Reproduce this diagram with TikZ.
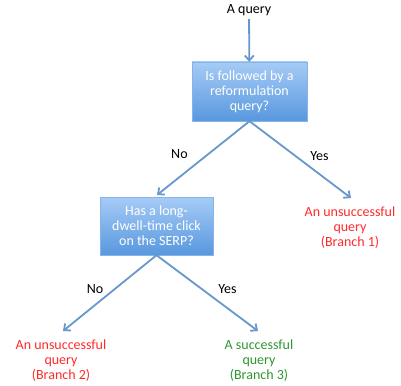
\documentclass[tikz,border=0pt]{standalone}
\usepackage{fontspec}
\setmainfont{Carlito}
\usetikzlibrary{shapes,arrows.meta,shadows}
\definecolor{boxtop}{HTML}{A6CBF6}
\definecolor{boxbot}{HTML}{5898DE}
\definecolor{boxline}{HTML}{86B4E8}
\definecolor{arr}{HTML}{6797CC}
\definecolor{okgreen}{HTML}{2E962E}
\definecolor{badred}{HTML}{FF2A2A}
\tikzstyle{qbox}=[rectangle,draw=boxline,top color=boxtop,bottom color=boxbot,text=white,align=center,font=\fontsize{14}{15}\selectfont,minimum width=115pt,minimum height=59pt,inner sep=2pt,drop shadow={opacity=0.25,shadow xshift=1pt,shadow yshift=-1pt}]
\tikzstyle{lab}=[align=center,font=\fontsize{14}{15}\selectfont]
\tikzstyle{arw}=[draw=arr,line width=1.8pt,-{Straight Barb[length=5pt,width=9pt]}]

\begin{document}
\begin{tikzpicture}[x=1pt,y=-1pt]
\useasboundingbox (0,0) rectangle (401,385);
\node[lab] (q) at (249,10) {A query};
\node[qbox] (b1) at (249.5,91.5) {Is followed by a\\reformulation\\query?};
\node[qbox,minimum width=113pt,minimum height=58pt] (b2) at (156.5,226) {Has a long-\\dwell-time click\\on the SERP?};
\node[lab,text=badred] (r1) at (350,228) {An unsuccessful\\query\\(Branch 1)};
\node[lab,text=badred] (r2) at (61,361) {An unsuccessful\\query\\(Branch 2)};
\node[lab,text=okgreen] (r3) at (259,361) {A successful\\query\\(Branch 3)};
\coordinate (t1) at (157,195); \coordinate (t2) at (351,198);
\coordinate (t3) at (63,331); \coordinate (t4) at (258,331);
\draw[arw] (q) -- (b1);
\draw[arw] (b1.south) -- (t1) node[pos=0.45,black,lab,left=16pt] (n1) {No};
\draw[arw] (b1.south) -- (t2) node[pos=0.45,black,lab,right=11pt] (y1) {Yes};
\draw[arw] (b2.south) -- (t3) node[pos=0.45,black,lab,left=7pt] (n2) {No};
\draw[arw] (b2.south) -- (t4) node[pos=0.45,black,lab,right=12pt] (y2) {Yes};
\end{tikzpicture}
\end{document}
